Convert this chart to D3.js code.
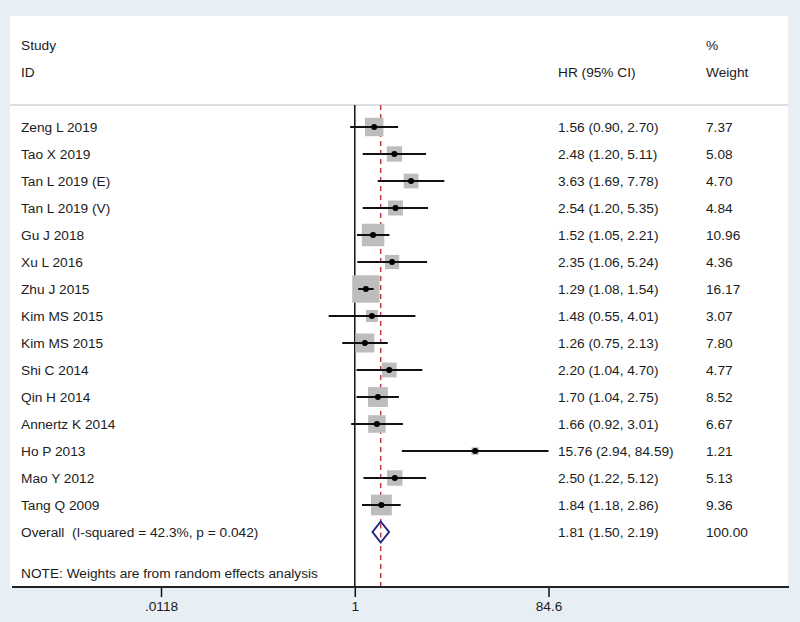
<!DOCTYPE html>
<html><head><meta charset="utf-8">
<script src="https://cdn.jsdelivr.net/npm/d3@7"></script>
<style>
html,body{margin:0;padding:0;background:#e8eff4;}
svg{display:block;}
text{font-family:"Liberation Sans",Arial,sans-serif;font-size:13.7px;fill:#1c1c1c;white-space:pre;}
</style></head>
<body>
<svg id="chart" width="800" height="622"></svg>
<script>
const studies = ["Zeng L 2019","Tao X 2019","Tan L 2019 (E)","Tan L 2019 (V)","Gu J 2018","Xu L 2016","Zhu J 2015","Kim MS 2015","Kim MS 2015","Shi C 2014","Qin H 2014","Annertz K 2014","Ho P 2013","Mao Y 2012","Tang Q 2009"];
const hr     = [1.56, 2.48, 3.63, 2.54, 1.52, 2.35, 1.29, 1.48, 1.26, 2.20, 1.70, 1.66, 15.76, 2.50, 1.84];
const lower  = [0.90, 1.20, 1.69, 1.20, 1.05, 1.06, 1.08, 0.55, 0.75, 1.04, 1.04, 0.92, 2.94, 1.22, 1.18];
const upper  = [2.70, 5.11, 7.78, 5.35, 2.21, 5.24, 1.54, 4.01, 2.13, 4.70, 2.75, 3.01, 84.59, 5.12, 2.86];
const weights= [7.37, 5.08, 4.70, 4.84, 10.96, 4.36, 16.17, 3.07, 7.80, 4.77, 8.52, 6.67, 1.21, 5.13, 9.36];
const overallLabel = "Overall  (I-squared = 42.3%, p = 0.042)";
const overall = {hr: 1.81, lower: 1.50, upper: 2.19, weight: 100.00};
const tickValues = [0.0118, 1, 84.6];
const tickLabels = [".0118", "1", "84.6"];
const noteText = "NOTE: Weights are from random effects analysis";

const svg = d3.select("#chart");
const panel = {left: 10, right: 788, top: 16, bottom: 587};
svg.append("rect").attr("x", panel.left).attr("y", panel.top)
  .attr("width", panel.right - panel.left).attr("height", panel.bottom - panel.top)
  .attr("fill", "#fff");

const x = d3.scaleLog().domain([0.0118, 84.6]).range([161, 548.5]);
const y = d3.scaleLinear().domain([0, 15]).range([127, 532]);

const headerLineY = 105;
svg.append("line").attr("x1", panel.left).attr("x2", panel.right)
  .attr("y1", headerLineY).attr("y2", headerLineY)
  .attr("stroke", "#b8c0c8").attr("stroke-width", 1.2);

// headers
const colStudy = 21, colHR = 558, colW = 706;
const hdr = [["Study", colStudy, 45], ["ID", colStudy, 72], ["HR (95% CI)", colHR, 72], ["%", colW, 45], ["Weight", colW, 72]];
svg.selectAll("text.hdr").data(hdr).enter().append("text").attr("class", "hdr")
  .attr("x", d => d[1]).attr("y", d => d[2]).attr("dominant-baseline", "central").text(d => d[0]);

// reference lines
svg.append("line").attr("x1", x(1)).attr("x2", x(1)).attr("y1", headerLineY).attr("y2", panel.bottom)
  .attr("stroke", "#111").attr("stroke-width", 1.5);
svg.append("line").attr("x1", x(overall.hr)).attr("x2", x(overall.hr)).attr("y1", headerLineY).attr("y2", panel.bottom)
  .attr("stroke", "#c0303a").attr("stroke-width", 1.4).attr("stroke-dasharray", "5,4");

const rows = studies.map((s, i) => ({s, hr: hr[i], lo: lower[i], hi: upper[i], w: weights[i], i}));
const k = 6.8;
const g = svg.append("g");
// boxes
g.selectAll("rect.box").data(rows).enter().append("rect").attr("class", "box")
  .attr("x", d => x(d.hr) - k * Math.sqrt(d.w) / 2)
  .attr("y", d => y(d.i) - k * Math.sqrt(d.w) / 2)
  .attr("width", d => k * Math.sqrt(d.w)).attr("height", d => k * Math.sqrt(d.w))
  .attr("fill", "#bdbdbd");
// CI lines
g.selectAll("line.ci").data(rows).enter().append("line").attr("class", "ci")
  .attr("x1", d => x(d.lo)).attr("x2", d => x(d.hi))
  .attr("y1", d => y(d.i)).attr("y2", d => y(d.i))
  .attr("stroke", "#111").attr("stroke-width", 2);
// points
g.selectAll("circle.pt").data(rows).enter().append("circle").attr("class", "pt")
  .attr("cx", d => x(d.hr)).attr("cy", d => y(d.i)).attr("r", 3).attr("fill", "#000");

// labels
const fmt = v => v.toFixed(2);
g.selectAll("text.study").data(rows).enter().append("text").attr("class", "study")
  .attr("x", colStudy).attr("y", d => y(d.i)).attr("dominant-baseline", "central").text(d => d.s);
g.selectAll("text.hr").data(rows).enter().append("text").attr("class", "hr")
  .attr("x", colHR).attr("y", d => y(d.i)).attr("dominant-baseline", "central")
  .text(d => `${fmt(d.hr)} (${fmt(d.lo)}, ${fmt(d.hi)})`);
g.selectAll("text.w").data(rows).enter().append("text").attr("class", "w")
  .attr("x", colW).attr("y", d => y(d.i)).attr("dominant-baseline", "central").text(d => fmt(d.w));

// overall
const oy = y(15);
svg.append("text").attr("x", colStudy).attr("y", oy).attr("dominant-baseline", "central").text(overallLabel);
svg.append("text").attr("x", colHR).attr("y", oy).attr("dominant-baseline", "central")
  .text(`${fmt(overall.hr)} (${fmt(overall.lower)}, ${fmt(overall.upper)})`);
svg.append("text").attr("x", colW).attr("y", oy).attr("dominant-baseline", "central").text(fmt(overall.weight));
const dh = 10.5;
svg.append("path")
  .attr("d", `M${x(overall.lower)},${oy} L${x(overall.hr)},${oy - dh} L${x(overall.upper)},${oy} L${x(overall.hr)},${oy + dh} Z`)
  .attr("fill", "#fff").attr("stroke", "#1f2a80").attr("stroke-width", 2);
svg.append("line").attr("x1", x(overall.hr)).attr("x2", x(overall.hr)).attr("y1", oy - dh + 2).attr("y2", oy + dh - 2)
  .attr("stroke", "#c0303a").attr("stroke-width", 1.4).attr("stroke-dasharray", "5,4");

svg.append("text").attr("x", colStudy).attr("y", 573).attr("dominant-baseline", "central").text(noteText);

// axis
const axis = d3.axisBottom(x).tickValues(tickValues).tickFormat((d, i) => tickLabels[i]).tickSize(10).tickPadding(4);
const ax = svg.append("g").attr("transform", `translate(0,${panel.bottom})`).call(axis);
ax.select(".domain").remove();
ax.selectAll(".tick line").attr("stroke", "#111").attr("stroke-width", 1.5);
ax.selectAll(".tick text").style("font-family", '"Liberation Sans",Arial,sans-serif').style("font-size", "13.7px").attr("fill", "#1c1c1c");
svg.append("line").attr("x1", 12).attr("x2", 789).attr("y1", panel.bottom).attr("y2", panel.bottom)
  .attr("stroke", "#222").attr("stroke-width", 1.8);
</script>
</body></html>
